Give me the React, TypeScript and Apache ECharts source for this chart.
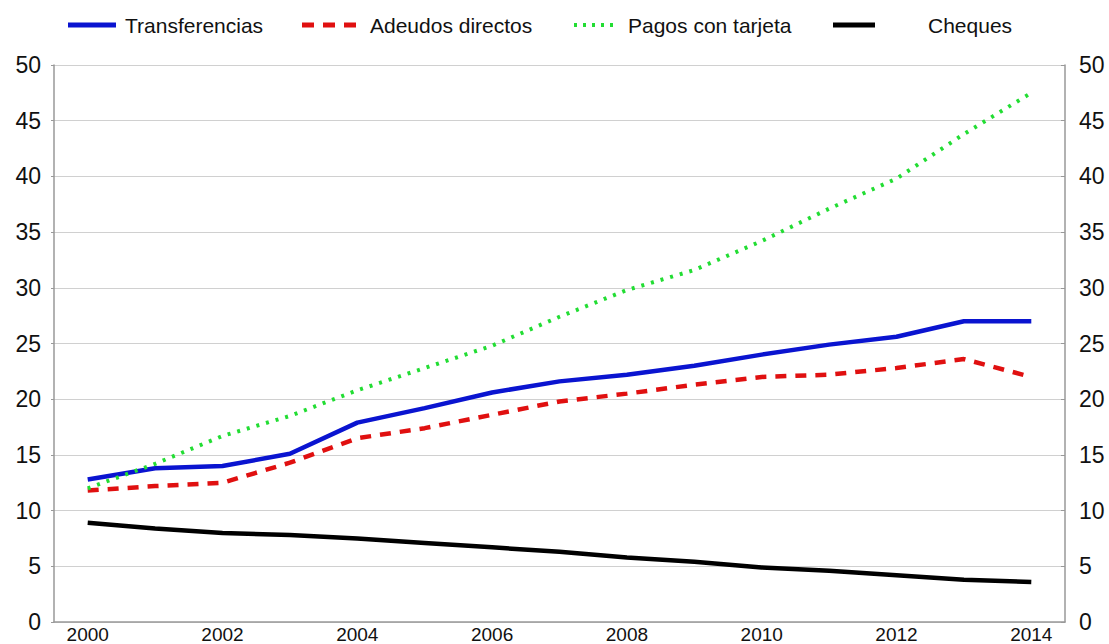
import React, { useEffect, useRef } from "react";
import * as echarts from "echarts";

const years = ["2000","2001","2002","2003","2004","2005","2006","2007","2008","2009","2010","2011","2012","2013","2014"];
const transferencias = [12.8, 13.8, 14.0, 15.1, 17.9, 19.2, 20.6, 21.6, 22.2, 23.0, 24.0, 24.9, 25.6, 27.0, 27.0];
const adeudos = [11.8, 12.2, 12.5, 14.3, 16.5, 17.4, 18.6, 19.8, 20.5, 21.3, 22.0, 22.2, 22.8, 23.6, 22.0];
const pagos = [12.0, 14.2, 16.7, 18.5, 20.8, 22.8, 24.8, 27.4, 29.8, 31.6, 34.2, 37.1, 39.8, 43.8, 47.5];
const cheques = [8.9, 8.4, 8.0, 7.8, 7.5, 7.1, 6.7, 6.3, 5.8, 5.4, 4.9, 4.6, 4.2, 3.8, 3.6];
const seriesNames = ["Transferencias", "Adeudos directos", "Pagos con tarjeta", "Cheques"];

export default function App() {
  const ref = useRef<HTMLDivElement>(null);
  useEffect(() => {
    const chart = echarts.init(ref.current!, null, { renderer: "svg" });
    const font = "Liberation Sans, Arial, sans-serif";
    const colors = ["#0a14d0", "#e01010", "#22dd33", "#000000"];
    const legendItems = [
      { x1: 68, x2: 116, tx: 125, dash: null as any, w: 5 },
      { x1: 302, x2: 358, tx: 370, dash: [12, 9], w: 5 },
      { x1: 574, x2: 614, tx: 628, dash: [3, 6], w: 4 },
      { x1: 833, x2: 875, tx: 928, dash: null as any, w: 5 },
    ];
    const graphic: any[] = [];
    legendItems.forEach((it, i) => {
      graphic.push({
        type: "line",
        shape: { x1: it.x1, y1: 25, x2: it.x2, y2: 25 },
        style: { stroke: colors[i], lineWidth: it.w, lineDash: it.dash || undefined },
      });
      graphic.push({
        type: "text",
        x: it.tx,
        y: 25,
        style: { text: seriesNames[i], fontFamily: font, fontSize: 21, fill: "#111", verticalAlign: "middle" },
      });
    });
    const axisLabel = { fontFamily: font, fontSize: 23, color: "#111" };
    chart.setOption({
      animation: false,
      backgroundColor: "#fff",
      graphic,
      grid: { left: 54, right: 44, top: 65, bottom: 21 },
      xAxis: {
        type: "category",
        data: years,
        boundaryGap: true,
        axisLine: { lineStyle: { color: "#999", width: 1.5 } },
        axisTick: { inside: true, alignWithLabel: true, interval: 0, length: 5, lineStyle: { color: "#999" } },
        axisLabel: { ...axisLabel, fontSize: 19, interval: 1, margin: 3 },
      },
      yAxis: [
        {
          type: "value", min: 0, max: 50, interval: 5, position: "left",
          axisLine: { show: true, lineStyle: { color: "#999", width: 1.5 } },
          axisTick: { show: true, length: 3, lineStyle: { color: "#999" } },
          splitLine: { lineStyle: { color: "#d0d0d0", width: 1 } },
          axisLabel: { ...axisLabel, margin: 13 },
        },
        {
          type: "value", min: 0, max: 50, interval: 5, position: "right",
          axisLine: { show: true, lineStyle: { color: "#999", width: 1.5 } },
          axisTick: { show: true, inside: true, length: 4, lineStyle: { color: "#999" } },
          splitLine: { show: false },
          axisLabel: { ...axisLabel, margin: 14 },
        },
      ],
      series: [
        { name: seriesNames[0], type: "line", data: transferencias, showSymbol: false, symbol: "none", lineStyle: { color: colors[0], width: 4.5 } },
        { name: seriesNames[1], type: "line", data: adeudos, showSymbol: false, symbol: "none", lineStyle: { color: colors[1], width: 4.5, type: [11, 9] } },
        { name: seriesNames[2], type: "line", data: pagos, showSymbol: false, symbol: "none", lineStyle: { color: colors[2], width: 4, type: [3, 7] } },
        { name: seriesNames[3], type: "line", data: cheques, showSymbol: false, symbol: "none", lineStyle: { color: colors[3], width: 4.5 } },
      ],
    });
    return () => chart.dispose();
  }, []);
  return <div ref={ref} style={{ width: 1109, height: 644, position: "absolute", left: 0, top: 0 }} />;
}
